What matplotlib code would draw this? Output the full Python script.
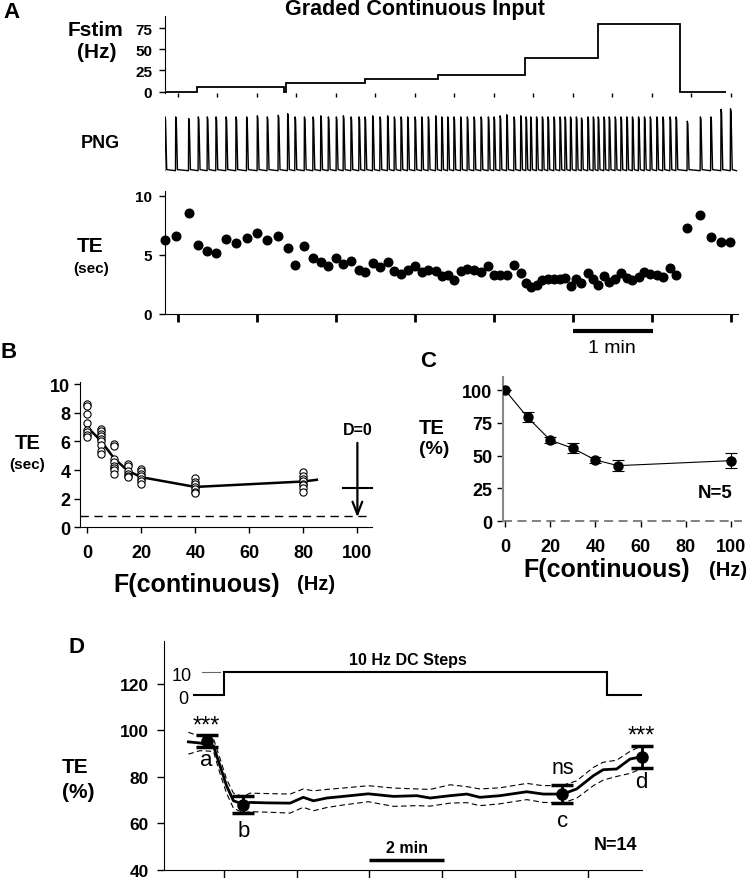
import numpy as np
import matplotlib
matplotlib.use('Agg')
import matplotlib.pyplot as plt

plt.rcParams['font.family'] = ['Liberation Sans', 'DejaVu Sans']

# ---------------- data ----------------
# Panel A: stimulus frequency steps (time in min)
fstim_edges = [-0.16, 0.25, 1.35, 1.37, 2.37, 3.29, 4.40, 5.32, 6.36, 6.94]
fstim_levels = [0, 5, 0, 10, 15, 20, 40, 80, 0]

# Panel A: breath times (min) and expiratory time (s)
te_t = [-0.161, -0.025, 0.139, 0.261, 0.375, 0.485, 0.612, 0.738, 0.873, 1.008,
        1.134, 1.273, 1.392, 1.485, 1.604, 1.713, 1.811, 1.907, 2.008, 2.097,
        2.194, 2.295, 2.371, 2.468, 2.561, 2.657, 2.742, 2.827, 2.911, 3.004,
        3.089, 3.172, 3.266, 3.342, 3.418, 3.497, 3.582, 3.666, 3.751, 3.840,
        3.932, 4.004, 4.081, 4.165, 4.257, 4.342, 4.409, 4.468, 4.542, 4.616,
        4.687, 4.763, 4.839, 4.903, 4.972, 5.046, 5.111, 5.192, 5.261, 5.323,
        5.396, 5.462, 5.538, 5.611, 5.685, 5.756, 5.833, 5.908, 5.982, 6.065,
        6.142, 6.232, 6.308, 6.450, 6.616, 6.748, 6.877, 6.997]
te_sec = [6.28, 6.56, 8.54, 5.86, 5.30, 5.13, 6.34, 6.00, 6.42, 6.87,
          6.28, 6.62, 5.61, 4.11, 5.75, 4.70, 4.37, 4.08, 4.70, 4.20,
          4.52, 3.75, 3.55, 4.31, 3.94, 4.42, 3.61, 3.41, 3.72, 4.03,
          3.55, 3.75, 3.63, 3.21, 3.30, 2.90, 3.61, 3.77, 3.69, 3.58,
          4.06, 3.30, 3.30, 3.30, 4.11, 3.49, 2.62, 2.30, 2.47, 2.85,
          2.92, 3.00, 2.92, 3.02, 2.40, 3.00, 2.63, 3.45, 2.96, 2.45,
          3.18, 2.74, 2.94, 3.48, 3.08, 2.87, 3.12, 3.52, 3.34, 3.30,
          3.12, 3.86, 3.27, 7.26, 8.39, 6.54, 6.11, 6.10]
png_amp = [1.0, 1.0, 0.97, 1.0, 1.0, 1.0, 1.0, 1.0, 1.0, 1.02,
           1.0, 1.03, 1.06, 1.0, 1.0, 1.0, 1.02, 1.0, 1.0, 1.02,
           1.0, 1.0, 1.0, 1.02, 1.0, 1.02, 1.0, 1.0, 1.0, 1.0,
           1.0, 1.0, 1.02, 1.0, 1.0, 1.0, 1.0, 1.0, 1.0, 1.0,
           1.0, 1.0, 1.02, 1.04, 1.0, 1.02, 1.0, 1.0, 1.0, 1.0,
           1.0, 1.0, 1.0, 1.0, 1.0, 1.0, 0.98, 1.0, 1.0, 1.0,
           1.0, 1.0, 1.0, 1.0, 1.0, 1.0, 1.0, 1.0, 1.0, 1.0,
           1.0, 1.0, 1.0, 0.92, 1.0, 1.0, 1.14, 1.15]

# Panel B: individual TE (s) per frequency, and mean curve
b_freq = [0, 5, 10, 15, 20, 40, 80]
b_te_groups = [
    [8.6, 8.45, 7.9, 7.3, 6.8, 6.65, 6.45, 6.3],
    [6.9, 6.7, 6.55, 6.4, 6.2, 6.0, 5.75, 5.35, 5.15],
    [5.8, 5.65, 4.75, 4.55, 4.3, 4.15, 4.0, 3.75],
    [4.4, 4.3, 3.95, 3.75, 3.6, 3.5],
    [4.1, 3.9, 3.75, 3.6, 3.4, 3.25, 3.0],
    [3.45, 3.15, 3.0, 2.8, 2.65, 2.5, 2.4],
    [3.85, 3.55, 3.4, 3.2, 3.05, 2.95, 2.75, 2.45],
]
b_line_f = [0, 5, 10, 15, 20, 40, 80, 85]
b_line_te = [7.0, 6.05, 4.8, 3.95, 3.5, 2.82, 3.2, 3.32]
b_d0_level = 0.77
b_d0_bar = 2.74

# Panel C: normalized TE (%) vs frequency
c_freq = [0, 10, 20, 30, 40, 50, 100]
c_te = [100, 79.2, 61.9, 55.6, 46.7, 42.4, 46.2]
c_err = [0, 3.8, 2.2, 3.8, 2.3, 4.4, 5.7]

# Panel D: DC step protocol and averaged TE (%) (time in min)
dc_edges = [-0.85, 0, 10.53, 11.5]
dc_levels = [0, 10, 0]
d_t = [-0.98, -0.66, -0.29, -0.11, 0.07, 0.26, 0.53, 0.72, 1.20, 1.82,
       2.18, 2.46, 2.83, 3.28, 3.97, 4.66, 5.30, 5.67, 6.22, 6.68,
       7.04, 7.59, 8.33, 8.78, 9.32, 9.70, 10.16, 10.43, 10.80, 11.17, 11.49]
d_mean = [95.1, 94.6, 93.4, 84.8, 76.2, 69.7, 68.2, 69.0, 68.8, 68.7,
          71.2, 69.7, 70.9, 71.6, 72.7, 71.6, 71.9, 70.9, 71.9, 72.6,
          71.2, 71.9, 73.6, 72.6, 72.6, 74.8, 80.5, 83.1, 83.4, 87.7, 88.7]
d_upper = [99.2, 97.5, 96.5, 88.0, 79.0, 73.0, 71.5, 73.0, 72.8, 72.6,
           74.8, 74.0, 74.6, 75.2, 76.2, 75.2, 74.8, 74.6, 76.6, 75.8,
           74.8, 75.3, 77.2, 76.2, 76.4, 78.3, 84.1, 86.3, 87.2, 91.0, 93.4]
d_lower = [89.8, 91.3, 91.0, 81.5, 73.0, 66.5, 64.5, 65.0, 64.8, 64.4,
           66.9, 65.4, 66.8, 67.9, 69.3, 67.3, 67.6, 67.4, 68.7, 68.9,
           67.6, 68.4, 70.2, 69.0, 68.8, 70.8, 76.2, 78.6, 80.2, 81.5, 83.6]
d_mark_t = [-0.48, 0.53, 9.31, 11.49]
d_mark_v = [95.5, 68.0, 72.8, 88.6]
d_mark_err = [2.5, 3.7, 3.9, 4.9]
d_mark_labels = ['a', 'b', 'c', 'd']
d_sig = ['***', '', 'ns', '***']

# ---------------- layout helpers ----------------
W, H = 750, 879
fig = plt.figure(figsize=(W / 100, H / 100), dpi=100)


def px_axes(left, right, top, bottom):
    return fig.add_axes([left / W, 1 - bottom / H, (right - left) / W, (bottom - top) / H])


def ftext(x, y, s, size, bold=True, **kw):
    fig.text(x / W, 1 - y / H, s, fontsize=size, fontweight='bold' if bold else 'normal',
             ha=kw.pop('ha', 'center'), va=kw.pop('va', 'center'), **kw)


def bold_ticks(ax, size):
    for lab in ax.get_xticklabels() + ax.get_yticklabels():
        lab.set_fontweight('bold')
        lab.set_fontsize(size)


T_LIM = (-0.167, 7.092)

# ---------------- Panel A: Fstim ----------------
ax_f = px_axes(164.5, 738, 16.7, 94)
ax_f.stairs(fstim_levels, fstim_edges, baseline=None, color='k', lw=1.3)
ax_f.set_xlim(*T_LIM)
ax_f.set_ylim(-1.5, 89.5)
for s in ['top', 'right', 'bottom']:
    ax_f.spines[s].set_visible(False)
ax_f.set_yticks([0, 25, 50, 75])
ax_f.set_xticks(np.arange(0, 7.01, 0.5))
ax_f.set_xticklabels([])
ax_f.tick_params(axis='y', length=4, width=1, pad=5)
ax_f.tick_params(axis='x', length=3, width=1)
bold_ticks(ax_f, 11)

# ---------------- Panel A: PNG ----------------
ax_p = px_axes(164.5, 738, 105, 176)
wx, wy = [T_LIM[0]], [0.0]
for t, a in zip(te_t, png_amp):
    wx += [t - 0.003, t, t + 0.007, t + 0.022]
    wy += [0.0, a, a * 0.95, 0.02]
wx.append(T_LIM[1] - 0.02)
wy.append(0.0)
ax_p.plot(wx, wy, color='k', lw=1.0)
ax_p.set_xlim(*T_LIM)
ax_p.set_ylim(-0.08, 1.24)
ax_p.axis('off')

# ---------------- Panel A: TE ----------------
ax_t = px_axes(164.5, 738, 191.7, 315)
ax_t.plot(te_t, te_sec, 'o', color='k', ms=6.2, clip_on=False)
ax_t.set_xlim(*T_LIM)
ax_t.set_ylim(0, 10.42)
for s in ['top', 'right']:
    ax_t.spines[s].set_visible(False)
ax_t.set_yticks([0, 5, 10])
ax_t.set_xticks(range(0, 8))
ax_t.set_xticklabels([])
ax_t.tick_params(axis='y', length=4, width=1, pad=5)
ax_t.tick_params(axis='x', length=6, width=2)
bold_ticks(ax_t, 11)
ax_t.plot([5, 6.02], [-1.41, -1.41], color='k', lw=3, clip_on=False, solid_capstyle='butt')
ax_t.text(5.5, -2.8, '1 min', ha='center', va='center', fontsize=14)

ftext(12, 12, 'A', 16)
ftext(415, 10, 'Graded Continuous Input', 15.5)
ftext(95, 30, 'Fstim', 15)
ftext(97, 53, '(Hz)', 15)
ftext(100, 143, 'PNG', 13)
ftext(90, 247, 'TE', 15)
ftext(91, 269, '(sec)', 11)

# ---------------- Panel B ----------------
ax_b = px_axes(80, 371.7, 383, 528.3)
for f, vals in zip(b_freq, b_te_groups):
    ax_b.plot([f] * len(vals), vals, 'o', mfc='white', mec='k', mew=0.8, ms=5.2, zorder=3)
ax_b.plot(b_line_f, b_line_te, color='k', lw=1.8, zorder=2)
ax_b.axhline(b_d0_level, color='k', lw=1, ls=(0, (6, 4)))
ax_b.annotate('', xy=(100, 0.7), xytext=(100, 5.9),
              arrowprops=dict(arrowstyle='->,head_length=0.9,head_width=0.35', lw=1.6,
                              color='k', shrinkA=0, shrinkB=0))
ax_b.plot([94.8, 105.3], [b_d0_bar, b_d0_bar], color='k', lw=1.5, clip_on=False)
ax_b.text(100, 6.86, 'D=0', ha='center', va='center', fontsize=11.5, fontweight='bold')
ax_b.set_xlim(-2.7, 105.3)
ax_b.set_ylim(0, 10.15)
for s in ['top', 'right']:
    ax_b.spines[s].set_visible(False)
ax_b.set_xticks(range(0, 101, 20))
ax_b.set_yticks(range(0, 11, 2))
ax_b.tick_params(axis='x', length=4, width=1, pad=8)
ax_b.tick_params(axis='y', length=4, width=1, pad=3)
bold_ticks(ax_b, 13)

ftext(9, 353, 'B', 16)
ftext(28, 444, 'TE', 14.5)
ftext(27, 465, '(sec)', 11)
ftext(197, 585, 'F(continuous)', 18)
ftext(316, 585, '(Hz)', 14.5)

# ---------------- Panel C ----------------
ax_c = px_axes(503.3, 741.7, 378.3, 522.3)
ax_c.axhline(0, color='#777777', lw=1.3, ls=(0, (5, 3)), clip_on=False)
ax_c.errorbar(c_freq, c_te, yerr=c_err, fmt='-o', color='k', lw=0.8, ms=6.5,
              elinewidth=0.8, capsize=4, capthick=0.8, zorder=3)
ax_c.set_xlim(-0.75, 104.7)
ax_c.set_ylim(0, 109.7)
for s in ['top', 'right', 'bottom']:
    ax_c.spines[s].set_visible(False)
ax_c.spines['left'].set_color('#888888')
ax_c.spines['left'].set_linewidth(1.5)
ax_c.set_xticks(range(0, 101, 20))
ax_c.set_yticks([0, 25, 50, 75, 100])
ax_c.tick_params(axis='x', length=4, width=1, pad=8)
ax_c.tick_params(axis='y', length=4, width=1, pad=4)
bold_ticks(ax_c, 13)
ax_c.text(93, 21.6, 'N=5', ha='center', va='center', fontsize=13.5, fontweight='bold')

ftext(428, 362, 'C', 16)
ftext(432, 429, 'TE', 14.5)
ftext(434, 450, '(%)', 14)
ftext(607, 570, 'F(continuous)', 18)
ftext(728, 570, '(Hz)', 14.5)

# ---------------- Panel D ----------------
ax_d = px_axes(164, 641.7, 641.7, 870.7)
dc_y = [115.2 + lv * 1.02 for lv in dc_levels]
ax_d.stairs(dc_y, dc_edges, baseline=None, color='k', lw=1.5)
ax_d.plot([-0.6, -0.11], [115.2 + 10 * 1.02] * 2, color='#666666', lw=0.8)
ax_d.text(-0.89, 123.6, '10', ha='right', va='center', fontsize=13)
ax_d.text(-0.99, 114.0, '0', ha='right', va='center', fontsize=13)
ax_d.text(5.05, 130.5, '10 Hz DC Steps', ha='center', va='center', fontsize=11.5,
          fontweight='bold')

ax_d.plot(d_t, d_upper, color='k', lw=0.8, ls=(0, (5, 3)))
ax_d.plot(d_t, d_lower, color='k', lw=0.8, ls=(0, (5, 3)))
ax_d.plot(d_t, d_mean, color='k', lw=2.0)
ax_d.errorbar(d_mark_t, d_mark_v, yerr=d_mark_err, fmt='o', color='k', ms=8,
              elinewidth=2, capsize=8, capthick=2.5, clip_on=False, zorder=4)

for t, v, e, lab, sig in zip(d_mark_t, d_mark_v, d_mark_err, d_mark_labels, d_sig):
    if lab in ('b', 'c'):
        ax_d.text(t, v - e - 7.5, lab, ha='center', va='center', fontsize=16)
    else:
        ax_d.text(t, v - e - 5.5, lab, ha='center', va='center', fontsize=16)
    if sig == '***':
        ax_d.text(t, v + e + 4.3, sig, ha='center', va='center', fontsize=17)
    elif sig:
        ax_d.text(t, v + e + 7.3, sig, ha='center', va='center', fontsize=15.5)

ax_d.text(10.76, 50.8, 'N=14', ha='center', va='center', fontsize=13, fontweight='bold')
ax_d.text(5.03, 49.6, '2 min', ha='center', va='center', fontsize=11.5, fontweight='bold')
ax_d.plot([3.99, 6.06], [44.3, 44.3], color='k', lw=2.5, solid_capstyle='butt')

ax_d.set_xlim(-1.65, 11.49)
ax_d.set_ylim(40, 138.7)
for s in ['top', 'right']:
    ax_d.spines[s].set_visible(False)
ax_d.set_xticks(range(0, 11, 2))
ax_d.set_xticklabels([])
ax_d.set_yticks([40, 60, 80, 100, 120])
ax_d.tick_params(axis='y', length=5, width=1, pad=6)
ax_d.tick_params(axis='x', length=6, width=1)
bold_ticks(ax_d, 12.5)

ftext(77, 648, 'D', 16)
ftext(75, 768, 'TE', 15)
ftext(78, 793, '(%)', 15)

fig.savefig('out.png', dpi=100)
